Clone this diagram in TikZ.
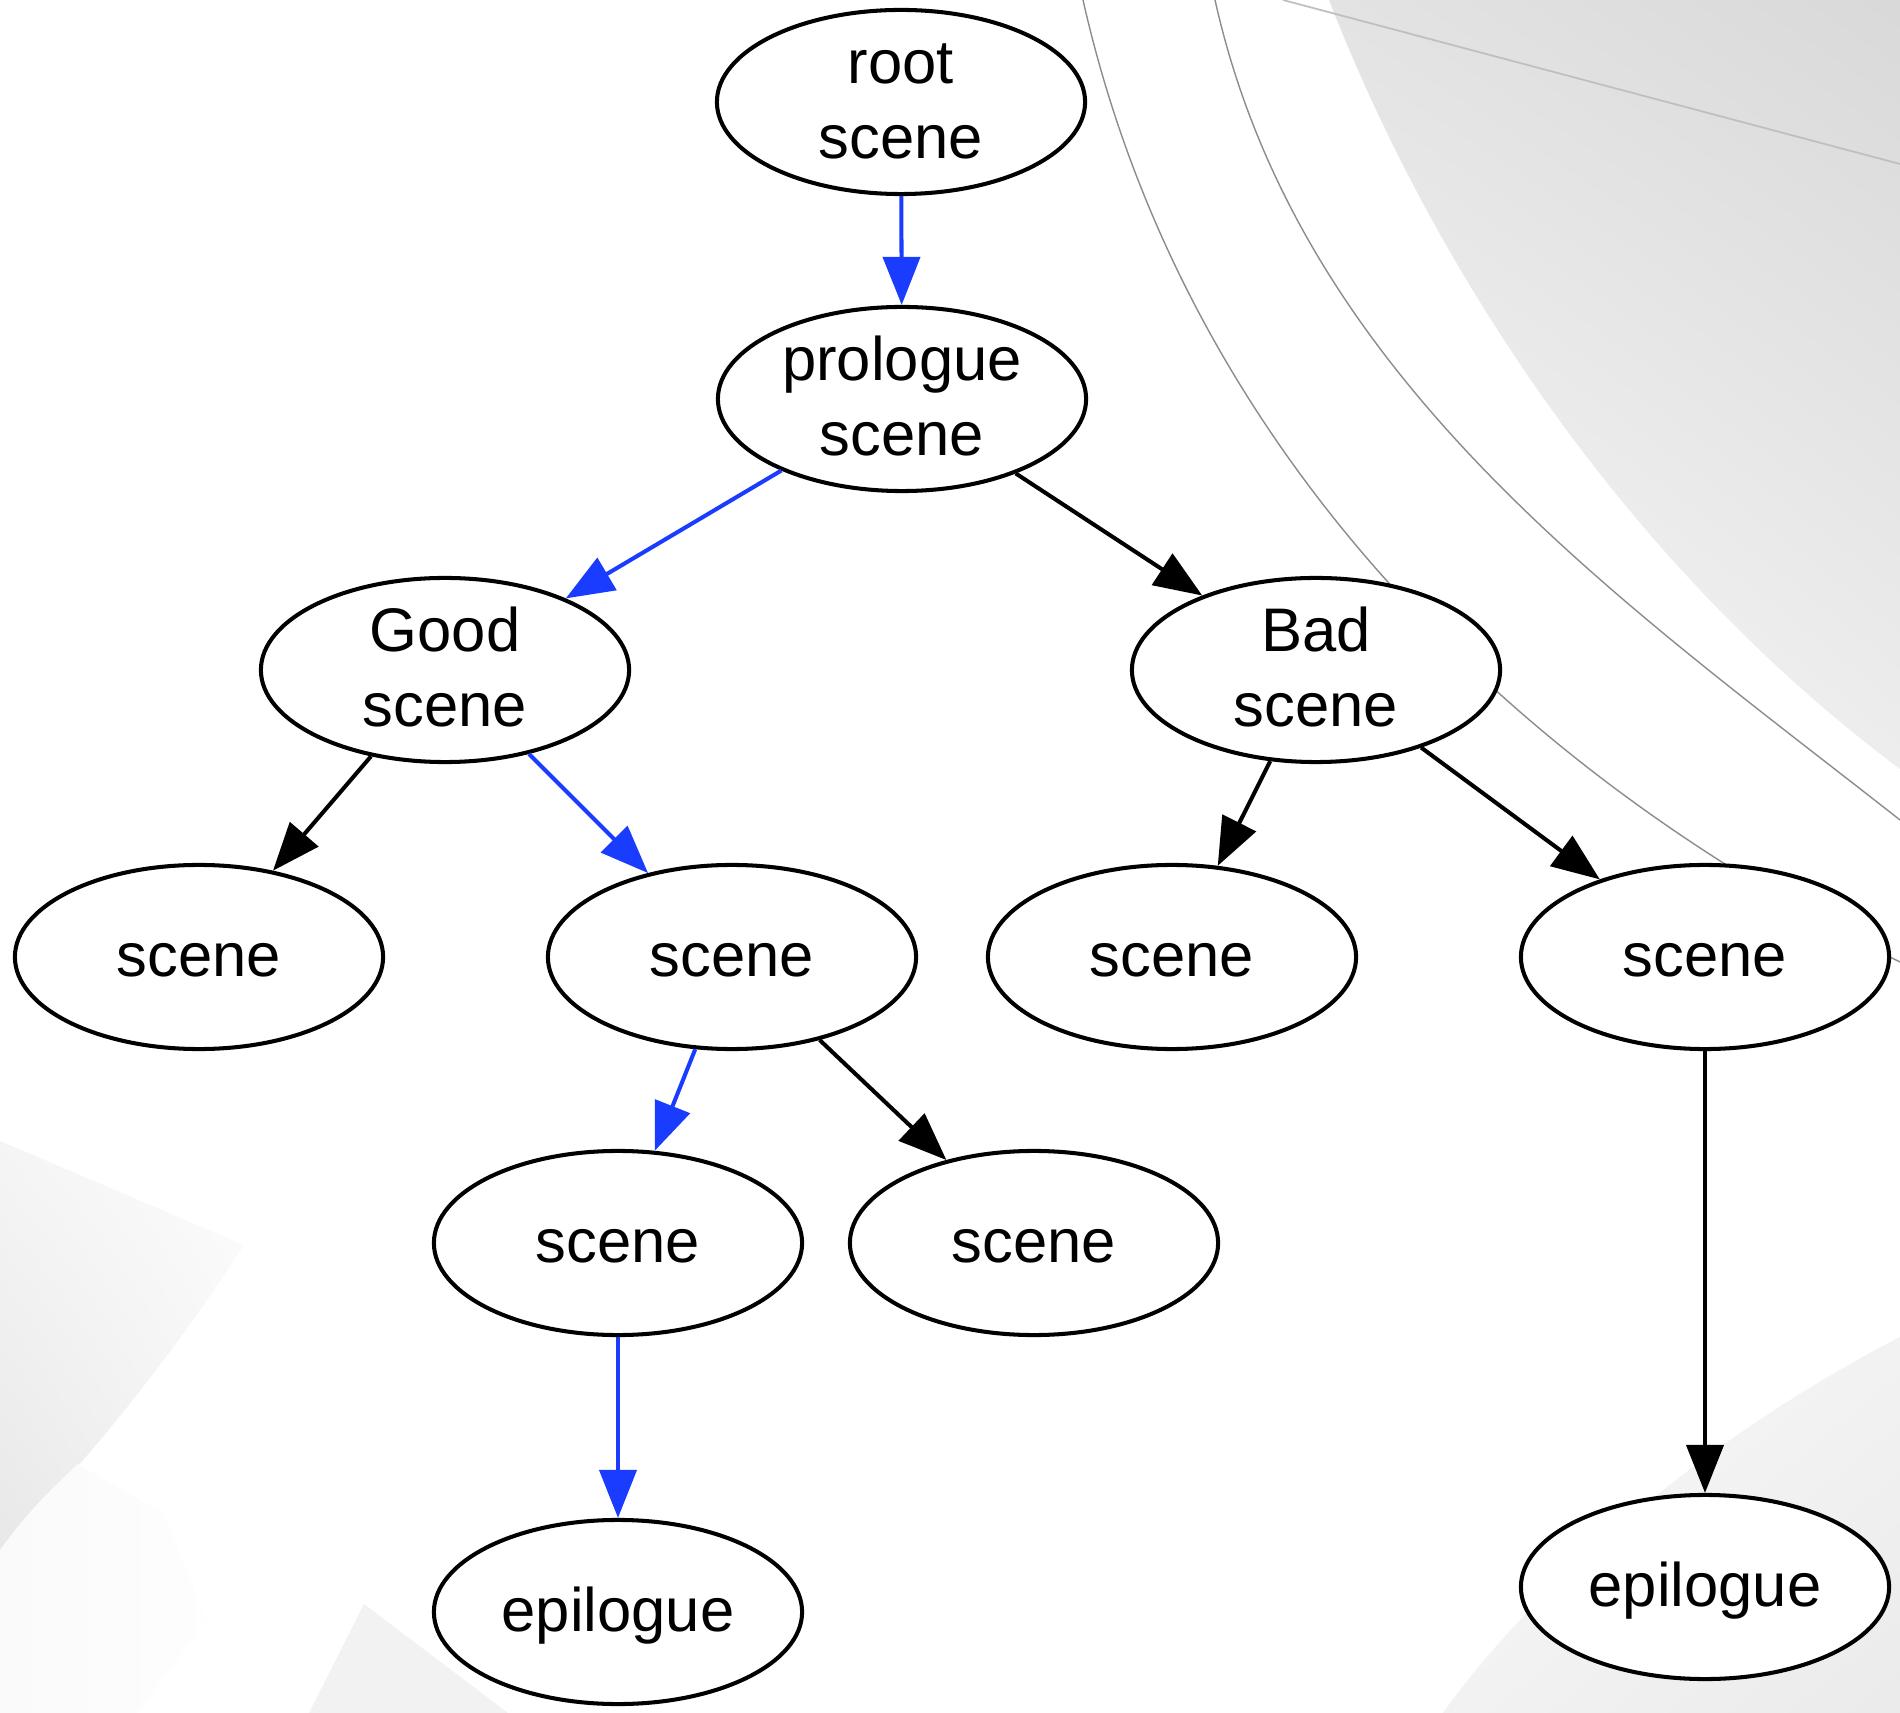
\documentclass[tikz,border=0pt]{standalone}
\usepackage{fontspec}
\setmainfont{Liberation Sans}
\usetikzlibrary{shapes.geometric,arrows.meta,shadings}

\definecolor{albastru}{RGB}{26,60,255}
% text pe doua rinduri
\newcommand\douarand[2]{\makebox[0pt]{\raisebox{0.37cm}[0pt][0pt]{#1}}%
  \makebox[0pt]{\raisebox{-0.37cm}[0pt][0pt]{#2}}}

\tikzset{
  scena/.style={ellipse, draw, line width=1.15pt, fill=white,
    minimum width=3.68cm, minimum height=1.84cm, inner sep=0pt,
    text height=0.5cm, text depth=0.12cm,
    font=\fontsize{17.5pt}{21pt}\selectfont},
  muchie/.style={line width=1.15pt, -{Triangle[length=0.48cm,width=0.37cm]}},
  drum/.style={muchie, albastru},
}

\begin{document}
\begin{tikzpicture}[x=0.01cm,y=-0.01cm]
  \useasboundingbox (0,0) rectangle (1900,1713);

  % fundalul
  \shade[upper left=black!11, upper right=black!15, lower left=black!2, lower right=black!7]
    (1329,0) .. controls (1430,260) and (1620,560) .. (1900,769) -- (1900,0) -- cycle;
  \draw[black!25, line width=0.5pt] (1283,0) -- (1900,164);
  \draw[black!45, line width=0.4pt]
    (1083,0) .. controls (1180,430) and (1490,760) .. (1900,962);
  \draw[black!45, line width=0.4pt]
    (1215,0) .. controls (1300,380) and (1620,600) .. (1900,820);
  \shade[lower left=black!9, upper right=black!1, upper left=black!4, lower right=black!4]
    (0,1141) -- (244,1245) .. controls (170,1360) and (80,1470) .. (0,1550) -- cycle;
  \shade[left color=black!2, right color=black!0.5]
    (0,1550) .. controls (25,1515) and (50,1490) .. (78,1464) -- (164,1514)
    -- (207,1620) -- (137,1713) -- (0,1713) -- cycle;
  \fill[black!5] (364,1604) -- (309,1713) -- (508,1713) -- cycle;
  \shade[upper left=black!2, upper right=black!5, lower left=black!5, lower right=black!8]
    (1443,1713) .. controls (1530,1590) and (1700,1440) .. (1900,1337) -- (1900,1713) -- cycle;

  % nodurile
  \node[scena] (R) at (901,102) {\douarand{root}{scene}};
  \node[scena] (P) at (902,399) {\douarand{prologue}{scene}};
  \node[scena] (G) at (445,670) {\douarand{Good}{scene}};
  \node[scena] (B) at (1316,670) {\douarand{Bad}{scene}};
  \node[scena] (S1) at (199,957) {scene};
  \node[scena] (S2) at (732,957) {scene};
  \node[scena] (S3) at (1172,957) {scene};
  \node[scena] (S4) at (1705,957) {scene};
  \node[scena] (S5) at (618,1243) {scene};
  \node[scena] (S6) at (1034,1243) {scene};
  \node[scena] (E1) at (618,1612) {epilogue};
  \node[scena] (E2) at (1705,1587) {epilogue};

  % muchiile
  \draw[drum] (R) -- (P);
  \draw[drum] (P) -- (G);
  \draw[muchie] (P) -- (B);
  \draw[muchie] (G) -- (S1);
  \draw[drum] (G) -- (S2);
  \draw[muchie] (B) -- (S3);
  \draw[muchie] (B) -- (S4);
  \draw[drum] (S2) -- (S5);
  \draw[muchie] (S2) -- (S6);
  \draw[drum] (S5) -- (E1);
  \draw[muchie] (S4) -- (E2);
\end{tikzpicture}
\end{document}
